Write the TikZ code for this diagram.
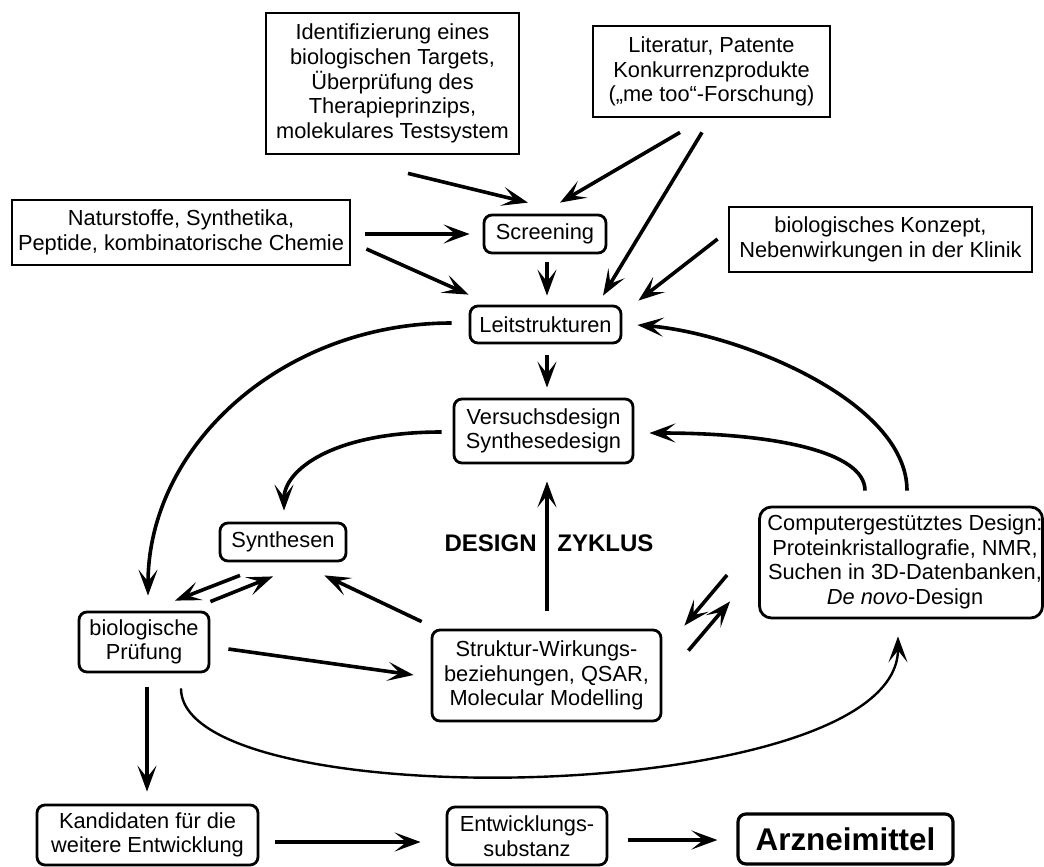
\documentclass[tikz,border=0pt]{standalone}
\usepackage{fontspec}
\setmainfont{Liberation Sans}
\usetikzlibrary{arrows.meta, calc}
\tikzset{
    x=0.5pt, y=-0.5pt, % one unit is one pixel of the sketch, y runs downwards
    >={Stealth[length=13pt, width=9.5pt, inset=6pt]}, % long barbed arrow heads
    frame/.style={draw, line width=1.4pt, inner sep=0pt, font=\fontsize{10.9}{12.3}\selectfont}, % every box
    box/.style={frame, align=center}, % square boxes (sources)
    procbox/.style={box, rounded corners=4pt}, % rounded boxes (process steps)
    link/.style={->, line width=1.8pt}, % normal arrow
    thinlink/.style={->, line width=1.2pt}, % the long lower arc
    cycle label/.style={inner sep=0pt, font=\fontsize{12}{14}\selectfont\bfseries},
}
\begin{document}
\begin{tikzpicture}
\useasboundingbox (0,0) rectangle (1044,867);
% sources
\node[box, minimum width=126.5pt, minimum height=70.5pt] (ident) at (392.5,83.5) {Identifizierung eines\\biologischen Targets,\\Überprüfung des\\Therapieprinzips,\\molekulares Testsystem};
\node[box, minimum width=118.5pt, minimum height=45.5pt] (lit) at (711.5,71.5) {Literatur, Patente\\Konkurrenzprodukte\\(„me too“-Forschung)};
\node[box, minimum width=169pt, minimum height=32.5pt] (natur) at (181,232.5) {Naturstoffe, Synthetika,\\Peptide, kombinatorische Chemie};
\node[box, minimum width=151.5pt, minimum height=32.5pt] (konzept) at (880.5,239.5) {biologisches Konzept,\\Nebenwirkungen in der Klinik};
% process steps
\node[procbox, minimum width=61pt, minimum height=19pt] (screen) at (545,234) {Screening};
\node[procbox, minimum width=75.5pt, minimum height=18.5pt] (leit) at (545.5,324.5) {Leitstrukturen};
\node[procbox, minimum width=89.5pt, minimum height=32pt] (versuch) at (543.5,431) {Versuchsdesign\\Synthesedesign};
\node[procbox, minimum width=63pt, minimum height=19pt] (synth) at (283,542) {Synthesen};
\node[frame, rounded corners=6pt, minimum width=139pt, minimum height=55.5pt] (comp) at (901,562.5) {\hspace*{4pt}\begin{tabular}{@{}c@{}}Computergestütztes Design:\\Proteinkristallografie, NMR,\\Suchen in 3D-Datenbanken,\\\textit{De novo}-Design\end{tabular}};
\node[procbox, minimum width=65pt, minimum height=30pt] (biol) at (144,642) {biologische\\Prüfung};
\node[procbox, minimum width=114.5pt, minimum height=45.5pt] (struk) at (546.5,675.5) {Struktur-Wirkungs-\\beziehungen, QSAR,\\Molecular Modelling};
\node[procbox, minimum width=110.5pt, minimum height=30pt] (kand) at (147.5,835) {Kandidaten für die\\weitere Entwicklung};
\node[procbox, minimum width=80pt, minimum height=29pt] (entw) at (527,836) {Entwicklungs-\\substanz};
\node[procbox, minimum width=107.5pt, minimum height=25pt, line width=1.6pt, font=\fontsize{15.7}{18}\selectfont\bfseries] (arz) at (845.5,839) {Arzneimittel};
\node[cycle label, anchor=east] (design) at (537,543) {DESIGN};
\node[cycle label, anchor=west] (zyklus) at (557,543) {ZYKLUS};
% upper part
\draw[link] ($(ident.south)+(15.5,18)$) -- ($(screen.north)+(-17,-11)$);
\draw[link] ($(lit.south)+(-31.5,14)$) -- ($(screen.north)+(15,-11)$);
\draw[link] ($(lit.south)+(-9.5,14)$) -- ($(leit.north)+(57.5,-9)$);
\draw[link] ($(natur.east)+(14,1.5)$) -- ($(screen.west)+(-13,0)$);
\draw[link] ($(natur.east)+(15,16.5)$) -- ($(leit.north west)+(0,-10)$);
\draw[link] ($(screen.south)+(2,8)$) -- ($(leit.north)+(1.5,-9)$);
\draw[link] ($(konzept.west)+(-10,-0.5)$) -- ($(leit.north east)+(16,-4)$);
\draw[link] ($(leit.south)+(1.5,11)$) -- ($(versuch.north)+(3.5,-10)$);
% design cycle
\draw[link] ($(leit.west)+(-17,-1.5)$) .. controls +(-168,0) and +(0,-151) .. ($(biol.north)+(4,-15)$);
\draw[link] ($(versuch.west)+(-11,1)$) .. controls +(-110,0) and +(0,-40) .. ($(synth.north)+(1,-11)$);
\draw[link] ($(comp.north)+(6,-15)$) .. controls +(0,-90) and +(100,8) .. ($(leit.east)+(15,0.5)$);
\draw[link] ($(comp.north)+(-36,-15)$) .. controls +(0,-40) and +(120,0) .. ($(versuch.east)+(15,2)$);
\draw[link] ($(struk.north)+(0.5,-18)$) -- ($(versuch.south)+(3.5,17)$);
\draw[link] ($(struk.north west)+(-9,-7)$) -- ($(synth.south east)+(-23,13)$);
\draw[link] ($(synth.south)+(-43,13)$) -- ($(biol.north)+(31,-10)$);
\draw[link] ($(biol.north east)+(0,-9)$) -- ($(synth.south)+(-10,14)$);
\draw[link] ($(biol.east)+(18,7)$) -- ($(struk.west)+(-17,-0.5)$);
\draw[link] ($(comp.west)+(-31,12.5)$) -- ($(struk.north east)+(22,-3)$);
\draw[link] ($(struk.north east)+(26,22)$) -- ($(comp.south west)+(-28,-18)$);
\draw[thinlink] ($(biol.south)+(37,15)$) .. controls +(0,130) and +(0,171) .. ($(comp.south)+(-3,17)$);
% development
\draw[link] ($(biol.south)+(3,14)$) -- ($(kand.north)+(-0.5,-12)$);
\draw[link] ($(kand.east)+(16,7)$) -- ($(entw.west)+(-25,6)$);
\draw[link] ($(entw.east)+(20,4)$) -- ($(arz.west)+(-19,1)$);
\end{tikzpicture}
\end{document}
